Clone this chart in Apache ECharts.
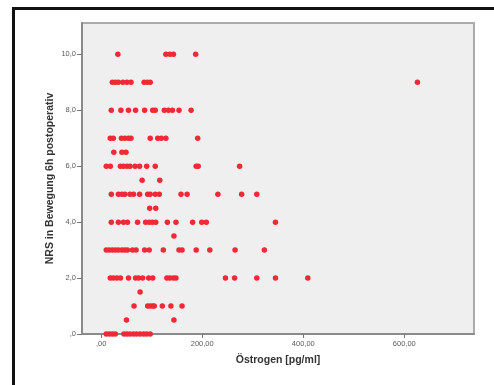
<!DOCTYPE html>
<html><head><meta charset="utf-8">
<script src="https://cdn.jsdelivr.net/npm/echarts@6/dist/echarts.min.js"></script>
<style>html,body{margin:0;padding:0;background:#fff}#c{width:494px;height:385px}</style>
</head><body><div id="c"></div>
<script>
// NRS level -> Östrogen values [pg/ml]
const nrs100 = [33, 128, 136, 143, 187];
const nrs90 = [22, 28, 34, 43, 51, 59, 85, 91, 97, 626];
const nrs80 = [20, 39, 54, 68, 86, 102, 107, 125, 133, 141, 154, 178];
const nrs70 = [18, 24, 40, 47, 54, 59, 97, 112, 119, 128, 191];
const nrs65 = [25, 41, 49];
const nrs60 = [10, 18, 38, 44, 51, 57, 67, 76, 90, 107, 188, 192, 274];
const nrs55 = [81, 116];
const nrs50 = [20, 34, 41, 47, 57, 64, 76, 92, 97, 107, 115, 158, 170, 231, 278, 308];
const nrs45 = [96, 108];
const nrs40 = [20, 34, 44, 52, 72, 88, 95, 101, 108, 131, 148, 181, 199, 208, 345];
const nrs35 = [144];
const nrs30 = [10, 16, 22, 28, 34, 41, 47, 52, 62, 69, 86, 95, 123, 154, 160, 188, 215, 265, 323];
const nrs20 = [18, 24, 31, 38, 54, 68, 74, 82, 94, 102, 130, 136, 143, 148, 246, 264, 308, 345, 409];
const nrs15 = [77];
const nrs10 = [65, 92, 97, 102, 105, 121, 138, 160];
const nrs05 = [50, 144];
const nrs00 = [10, 16, 22, 28, 45, 51, 57, 64, 70, 77, 84, 90, 97];

const yTicks = [0, 2, 4, 6, 8, 10];
const yTickLabels = [',0', '2,0', '4,0', '6,0', '8,0', '10,0'];
const xTicks = [0, 200, 400, 600];
const xTickLabels = [',00', '200,00', '400,00', '600,00'];

const rows = [
  [10, nrs100], [9, nrs90], [8, nrs80], [7, nrs70], [6.5, nrs65], [6, nrs60],
  [5.5, nrs55], [5, nrs50], [4.5, nrs45], [4, nrs40], [3.5, nrs35], [3, nrs30],
  [2, nrs20], [1.5, nrs15], [1, nrs10], [0.5, nrs05], [0, nrs00]
];
const data = [];
rows.forEach(([y, xs]) => xs.forEach(x => data.push([x, y])));

const chart = echarts.init(document.getElementById('c'), null, {renderer: 'canvas'});
chart.setOption({
  animation: false,
  graphic: [{
    type: 'polyline',
    shape: {points: [[13.5, 400], [13.5, 8.5], [500, 8.5]]},
    style: {stroke: '#111', lineWidth: 3, fill: null}
  }],
  grid: {left: 82, top: 23, right: 20, bottom: 51, show: true,
         backgroundColor: '#efefef', borderColor: '#ababab', borderWidth: 2},
  xAxis: {
    type: 'value', min: -38, max: 738,
    name: 'Östrogen [pg/ml]', nameLocation: 'middle', nameGap: 21, nameMoveOverlap: false,
    nameTextStyle: {fontFamily: 'Liberation Sans', fontWeight: 'bold', fontSize: 10.5, color: '#333'},
    splitLine: {show: false},
    axisLine: {show: true, onZero: false, lineStyle: {color: '#8a8a8a', width: 2}},
    axisTick: {show: true, length: 4, customValues: xTicks, lineStyle: {color: '#777'}},
    axisLabel: {customValues: xTicks, margin: 6, fontFamily: 'Liberation Sans', fontSize: 7.5, color: '#5a5a5a',
      formatter: v => xTickLabels[xTicks.indexOf(v)] ?? ''}
  },
  yAxis: {
    type: 'value', min: 0, max: 11.12,
    name: 'NRS in Bewegung 6h postoperativ', nameLocation: 'middle', nameGap: 26, nameMoveOverlap: false,
    nameTextStyle: {fontFamily: 'Liberation Sans', fontWeight: 'bold', fontSize: 10.5, color: '#333'},
    splitLine: {show: false},
    axisLine: {show: true, onZero: false, lineStyle: {color: '#8a8a8a', width: 2}},
    axisTick: {show: true, length: 5, customValues: yTicks, lineStyle: {color: '#777'}},
    axisLabel: {customValues: yTicks, margin: 6, fontFamily: 'Liberation Sans', fontSize: 7.5, color: '#5a5a5a',
      formatter: v => yTickLabels[yTicks.indexOf(v)] ?? ''}
  },
  series: [{
    type: 'scatter', data: data, symbol: 'circle', symbolSize: 5.5,
    itemStyle: {color: '#ee2a36', opacity: 1}
  }]
});
</script></body></html>
